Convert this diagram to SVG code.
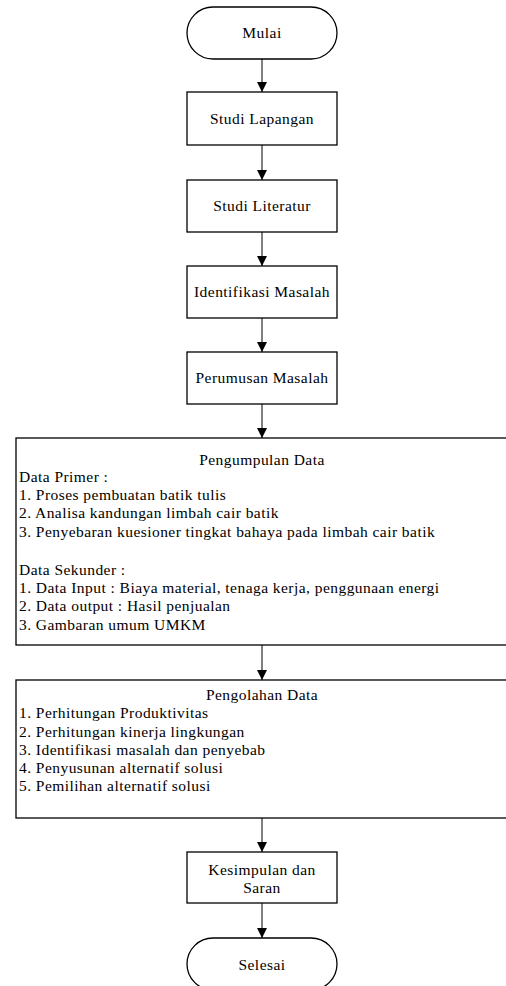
<svg xmlns="http://www.w3.org/2000/svg" width="506" height="986" viewBox="0 0 506 986">
<style>
.s{fill:#fff;stroke:#000;stroke-width:1.3}
.t{font-family:"Liberation Serif","Times New Roman",Times,serif;font-size:15.5px;letter-spacing:0.45px;fill:#000}
.c{text-anchor:middle}
.e{stroke:#000;stroke-width:1;fill:none;marker-end:url(#ah)}
</style>
<defs>
<marker id="ah" markerWidth="10" markerHeight="10" refX="10" refY="5" orient="auto" markerUnits="userSpaceOnUse">
<path d="M0,0 L10,5 L0,10 Z" fill="#000"/>
</marker>
</defs>
<rect width="506" height="986" fill="#fff"/>
<g id="connectors">
<line class="e" x1="262" y1="59" x2="262" y2="92"/>
<line class="e" x1="262" y1="145" x2="262" y2="180"/>
<line class="e" x1="262" y1="232" x2="262" y2="266"/>
<line class="e" x1="262" y1="318" x2="262" y2="352"/>
<line class="e" x1="262" y1="404" x2="262" y2="438"/>
<line class="e" x1="262" y1="645" x2="262" y2="680"/>
<line class="e" x1="262" y1="818" x2="262" y2="852"/>
<line class="e" x1="262" y1="903" x2="262" y2="938"/>
</g>
<g id="mulai">
<rect class="s" x="187" y="7" width="150" height="52" rx="26"/>
<text class="t c" x="262" y="38">Mulai</text>
</g>
<g id="studi-lapangan">
<rect class="s" x="187" y="92" width="150" height="53"/>
<text class="t c" x="262" y="124">Studi Lapangan</text>
</g>
<g id="studi-literatur">
<rect class="s" x="187" y="180" width="150" height="52"/>
<text class="t c" x="262" y="211">Studi Literatur</text>
</g>
<g id="identifikasi">
<rect class="s" x="187" y="266" width="150" height="52"/>
<text class="t c" x="262" y="297">Identifikasi Masalah</text>
</g>
<g id="perumusan">
<rect class="s" x="187" y="352" width="150" height="52"/>
<text class="t c" x="262" y="383">Perumusan Masalah</text>
</g>
<g id="pengumpulan">
<rect class="s" x="16" y="438" width="500" height="207"/>
<text class="t c" x="262" y="465">Pengumpulan Data</text>
<text class="t" x="19" y="482">Data Primer :</text>
<text class="t" x="19" y="500">1. Proses pembuatan batik tulis</text>
<text class="t" x="19" y="518">2. Analisa kandungan limbah cair batik</text>
<text class="t" x="19" y="537">3. Penyebaran kuesioner tingkat bahaya pada limbah cair batik</text>
<text class="t" x="19" y="575">Data Sekunder :</text>
<text class="t" x="19" y="593">1. Data Input : Biaya material, tenaga kerja, penggunaan energi</text>
<text class="t" x="19" y="611">2. Data output : Hasil penjualan</text>
<text class="t" x="19" y="630">3. Gambaran umum UMKM</text>
</g>
<g id="pengolahan">
<rect class="s" x="16" y="680" width="500" height="138"/>
<text class="t c" x="262" y="700">Pengolahan Data</text>
<text class="t" x="19" y="718">1. Perhitungan Produktivitas</text>
<text class="t" x="19" y="737">2. Perhitungan kinerja lingkungan</text>
<text class="t" x="19" y="755">3. Identifikasi masalah dan penyebab</text>
<text class="t" x="19" y="773">4. Penyusunan alternatif solusi</text>
<text class="t" x="19" y="791">5. Pemilihan alternatif solusi</text>
</g>
<g id="kesimpulan">
<rect class="s" x="187" y="852" width="150" height="51"/>
<text class="t c" x="262" y="875">Kesimpulan dan</text>
<text class="t c" x="262" y="893">Saran</text>
</g>
<g id="selesai">
<rect class="s" x="187" y="938" width="150" height="52" rx="26"/>
<text class="t c" x="262" y="970">Selesai</text>
</g>
</svg>
